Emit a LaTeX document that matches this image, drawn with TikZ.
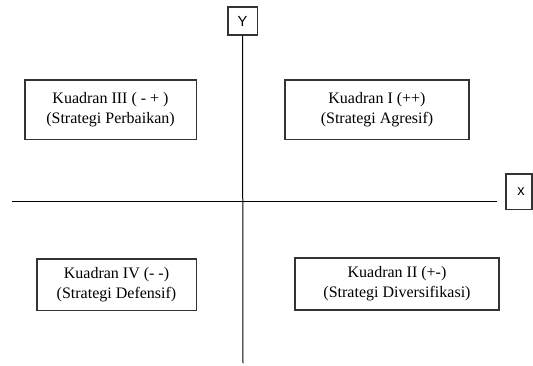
\documentclass[tikz,border=0pt]{standalone}
\usepackage{fontspec}
\setmainfont{Liberation Serif}
\newfontfamily\sumbufont{Liberation Sans}
\usetikzlibrary{positioning}
\tikzstyle{kuadran} = [rectangle, draw=black!80, line width=0.8pt, align=center, inner sep=0pt, font=\fontsize{12}{15}\selectfont]
\tikzstyle{sumbu}   = [rectangle, draw=black!80, line width=0.8pt, inner sep=0pt, font=\sumbufont\fontsize{11}{13}\selectfont]
\tikzstyle{garis}   = [line width=0.75pt, black]

\begin{document}
\begin{tikzpicture}[x=0.75pt,y=-0.75pt]
\useasboundingbox (0,0) rectangle (533,365);
\node[sumbu, minimum width=21.8pt, minimum height=21pt] (Y) at (242.5,21) {\raisebox{-2pt}{Y}};
\node[sumbu, minimum width=19.5pt, minimum height=26.3pt] (X) at (519,191.5) {\hspace{3pt}x};
\coordinate (bawah) at (243,363);
\coordinate (kiri) at (12,201);
\coordinate (kanan) at (497,201);
\draw[garis] (Y.south) -- (bawah);
\draw[garis] (kiri) -- (kanan);
\node[kuadran, minimum width=128.3pt, minimum height=44.3pt] (k3) at (110.5,109.5)
	{Kuadran III ( - + )\\(Strategi Perbaikan)};
\node[kuadran, minimum width=138pt, minimum height=44.3pt] (k1) at (377,109.5)
	{Kuadran I (++)\\(Strategi Agresif)};
\node[kuadran, minimum width=119.3pt, minimum height=38.3pt] (k4) at (116.5,284.5)
	{Kuadran IV (- -)\\(Strategi Defensif)};
\node[kuadran, minimum width=153pt, minimum height=39pt] (k2) at (397,284)
	{Kuadran II (+-)\\(Strategi Diversifikasi)};
\end{tikzpicture}
\end{document}
